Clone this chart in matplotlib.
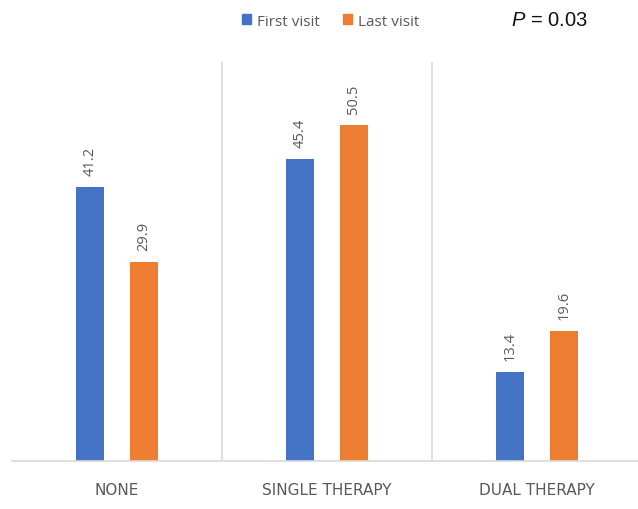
import matplotlib
matplotlib.use("Agg")
import matplotlib.pyplot as plt
from matplotlib.patches import Patch
import numpy as np

categories = ["NONE", "SINGLE THERAPY", "DUAL THERAPY"]
first_visit = [41.2, 45.4, 13.4]
last_visit = [29.9, 50.5, 19.6]
series_names = ["First visit", "Last visit"]
p_text = "$P$ = 0.03"

plt.rcParams['mathtext.fontset'] = 'custom'
plt.rcParams['mathtext.it'] = 'Liberation Sans:italic'
plt.rcParams['mathtext.rm'] = 'Liberation Sans'

W, H = 638, 510
fig = plt.figure(figsize=(W / 100, H / 100), dpi=100)
ax = fig.add_axes([12 / W, 48 / H, 630 / W, 399 / H])

blue = "#4472C4"
orange = "#ED7D31"
grey_txt = "#595959"
line_col = "#D9D9D9"

x = np.arange(len(categories))
off = 0.128
bw = 0.135
b1 = ax.bar(x - off, first_visit, bw, color=blue)
b2 = ax.bar(x + off, last_visit, bw, color=orange)

for bars, vals in ((b1, first_visit), (b2, last_visit)):
    for r, v in zip(bars, vals):
        ax.annotate(f"{v}", (r.get_x() + r.get_width() / 2, v), xytext=(0, 8.5),
                    textcoords="offset points", rotation=90, ha="center", va="bottom",
                    fontsize=10.5, color=grey_txt, family="Open Sans")

ax.set_xlim(-0.5, 2.5)
ax.set_ylim(0, 60)
for s in ("top", "right", "left"):
    ax.spines[s].set_visible(False)
ax.spines["bottom"].set_color(line_col)
ax.spines["bottom"].set_linewidth(1.2)
for xs in (0.5, 1.5):
    ax.axvline(xs, color=line_col, lw=1.2)
ax.set_yticks([])
ax.set_xticks(x)
ax.set_xticklabels(categories, fontsize=11, color=grey_txt, family="DejaVu Sans")
ax.tick_params(axis="x", length=0, pad=15)

handles = [Patch(color=blue), Patch(color=orange)]
fig.legend(handles, series_names, loc="center", bbox_to_anchor=(331 / W, 1 - 22 / H),
           ncol=2, frameon=False, handlelength=0.6, handleheight=0.6, handletextpad=0.4,
           columnspacing=1.5, prop={"family": "Open Sans", "size": 11},
           labelcolor=grey_txt)

fig.text(549 / W, 1 - 20 / H, p_text, ha="center", va="center", fontsize=14.5,
         family="Liberation Sans", color="#111111")

fig.savefig("out.png", dpi=100)
